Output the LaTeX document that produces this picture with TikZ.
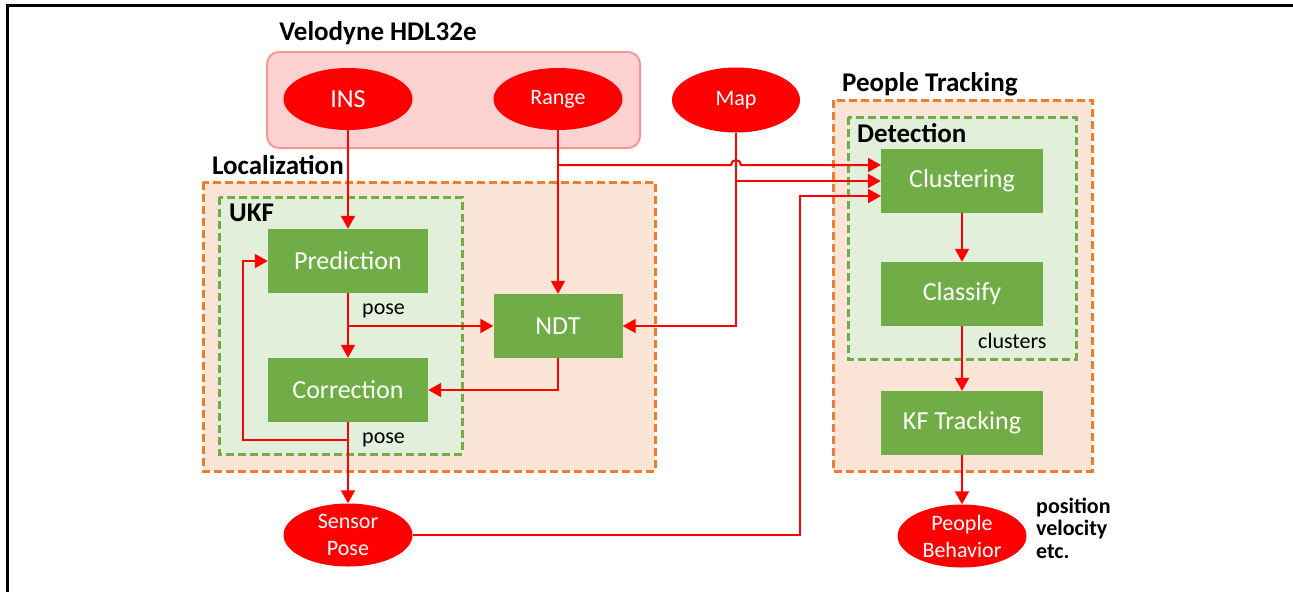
\documentclass[tikz,border=0pt]{standalone}
\usepackage{fontspec}
\setmainfont{Carlito}
\usetikzlibrary{arrows.meta,shapes.geometric}
\definecolor{sigred}{RGB}{255,0,0}
\definecolor{boxgreen}{RGB}{112,173,71}
\definecolor{lgreen}{RGB}{226,239,218}
\definecolor{dorange}{RGB}{237,125,49}
\definecolor{lorange}{RGB}{251,229,214}
\definecolor{lpink}{RGB}{255,210,210}
\definecolor{dpink}{RGB}{248,150,150}
\tikzset{
	sig/.style={ellipse,fill=sigred,text=white,minimum width=129pt,minimum height=62pt,inner sep=0pt,align=center,font=\fontsize{22}{27}\selectfont},
	blk/.style={fill=boxgreen,text=white,minimum width=160pt,minimum height=64pt,inner sep=0pt,font=\fontsize{26}{28}\selectfont},
	ln/.style={sigred,line width=2pt},
	arr/.style={ln,-{Triangle[length=13pt,width=14pt]}},
	ttl/.style={anchor=west,inner sep=0pt,font=\fontsize{27}{29}\selectfont\bfseries},
	lbl/.style={anchor=west,inner sep=0pt,font=\fontsize{22}{24}\selectfont},
	outer/.style={draw=dorange,fill=lorange,line width=3pt,dash pattern=on 8pt off 4pt},
	inner/.style={draw=boxgreen,fill=lgreen,line width=3pt,dash pattern=on 8pt off 4pt},
}
\begin{document}
\begin{tikzpicture}[x=1pt,y=-1pt]
	\useasboundingbox (0,0) rectangle (1293,592);
	\draw[line width=3pt] (7,592)--(7,5)--(1293,5);
	% groups
	\draw[rounded corners=12pt,fill=lpink,draw=dpink,line width=2pt] (267,52) rectangle (640,148);
	\node[ttl,anchor=center] (velo) at (378,33) {Velodyne HDL32e};
	\draw[outer] (203,182) rectangle (655,471);
	\node[ttl] (loc) at (212,165) {Localization};
	\draw[inner] (219,197) rectangle (462,454);
	\node[ttl] (ukf) at (229,213) {UKF};
	\draw[outer] (833,100) rectangle (1092,471);
	\node[ttl] (ptrk) at (842,84) {People Tracking};
	\draw[inner] (848,117) rectangle (1076,359);
	\node[ttl] (det) at (857,133) {Detection};
	% inputs
	\node[sig,font=\fontsize{26}{28}\selectfont] (ins) at (348,99) {INS};
	\node[sig] (range) at (558,99) {\raisebox{-2pt}{Range}};
	\node[sig,minimum width=128pt,minimum height=65pt] (map) at (736,100) {\raisebox{-2pt}{Map}};
	% localization
	\node[blk] (pred) at (348,261) {Prediction};
	\node[blk] (corr) at (348,390) {Correction};
	\node[blk,minimum width=129pt] (ndt) at (558,326) {NDT};
	\node[sig,minimum height=63pt] (spose) at (348,535) {Sensor\\Pose};
	\node[lbl] (pose1) at (362,311) {pose};
	\node[lbl] (pose2) at (362,440) {pose};
	% people tracking
	\node[blk,minimum width=162pt] (clus) at (962,181) {Clustering};
	\node[blk,minimum width=162pt] (clas) at (962,294) {Classify};
	\node[blk,minimum width=162pt] (kft) at (962,423) {KF Tracking};
	\node[sig,minimum height=63pt] (pbeh) at (962,536) {People\\Behavior};
	\node[lbl] (clst) at (978,341) {clusters};
	\node[lbl,align=left,font=\fontsize{22}{22.5}\selectfont\bfseries] (out) at (1036,528) {position\\velocity\\etc.};
	% connectors
	\coordinate (c1) at (881,165);
	\coordinate (c3) at (881,196);
	\coordinate (fb) at (243,440);
	\draw[arr] (ins) -- (pred);
	\draw[arr] (range) -- (ndt);
	\draw[arr] (range.south |- c1) -- ([xshift=-5pt]map.south |- c1) arc[start angle=180,end angle=0,radius=5pt] -- (c1);
	\draw[arr] (map.south) |- (ndt.east);
	\draw[arr] (map.south |- clus.west) -- (clus.west);
	\draw[arr] (spose.east) -| ([xshift=-81pt]c3) -- (c3);
	\draw[arr] (pred) -- (corr);
	\draw[arr] (pred.south |- ndt.west) -- (ndt.west);
	\draw[arr] (ndt.south) |- (corr.east);
	\draw[arr] (corr) -- (spose);
	\draw[arr] (corr.south |- fb) -- (fb) |- (pred.west);
	\draw[arr] (clus) -- (clas);
	\draw[arr] (clas) -- (kft);
	\draw[arr] (kft) -- (pbeh);
\end{tikzpicture}
\end{document}
